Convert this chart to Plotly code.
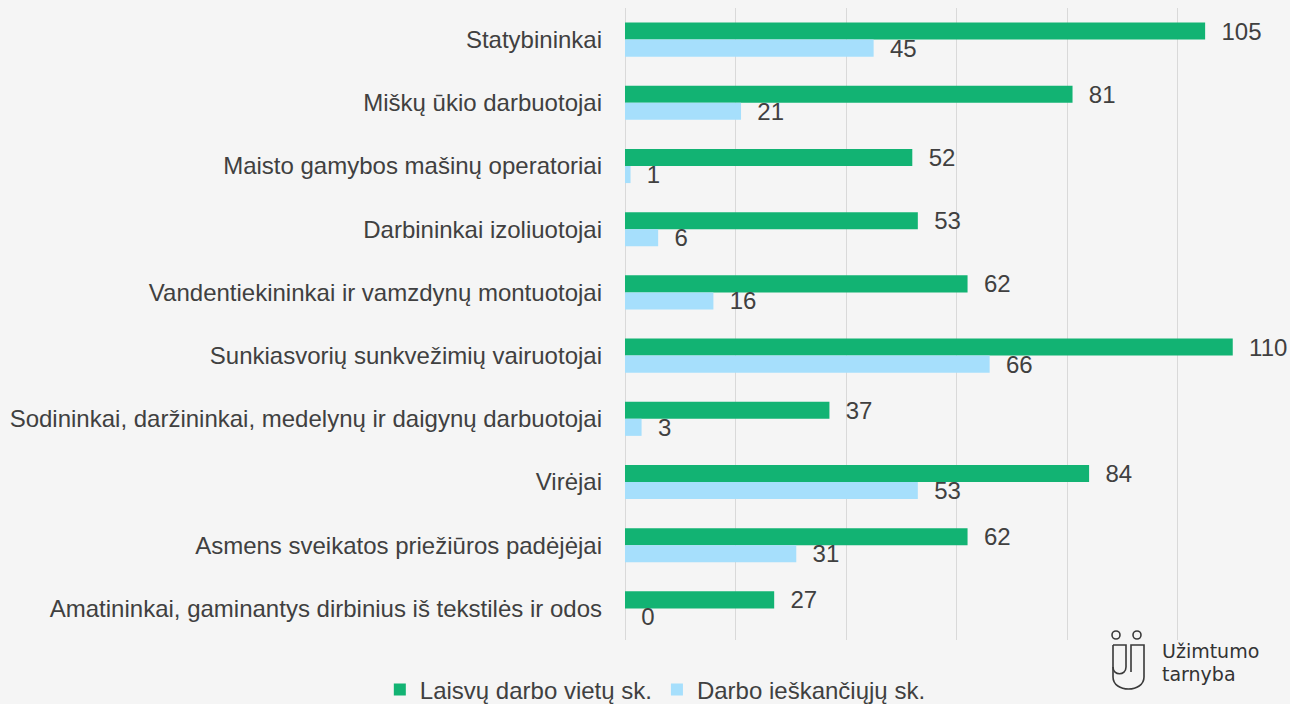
import plotly.graph_objects as go

categories = [
    "Statybininkai",
    "Miškų ūkio darbuotojai",
    "Maisto gamybos mašinų operatoriai",
    "Darbininkai izoliuotojai",
    "Vandentiekininkai ir vamzdynų montuotojai",
    "Sunkiasvorių sunkvežimių vairuotojai",
    "Sodininkai, daržininkai, medelynų ir daigynų darbuotojai",
    "Virėjai",
    "Asmens sveikatos priežiūros padėjėjai",
    "Amatininkai, gaminantys dirbinius iš tekstilės ir odos",
]
laisvos_vietos = [105, 81, 52, 53, 62, 110, 37, 84, 62, 27]
ieskantys = [45, 21, 1, 6, 16, 66, 3, 53, 31, 0]
series_names = ["Laisvų darbo vietų sk.", "Darbo ieškančiųjų sk."]

W, H = 1290, 704
L, R, T, B = 625, 2, 8, 64
pw, ph = W - L - R, H - T - B

TXT = "#404040"
FONT = "Liberation Sans, Arial, sans-serif"
FS = 24

fig = go.Figure()
fig.add_trace(go.Bar(
    y=categories, x=laisvos_vietos, orientation="h", name=series_names[0],
    marker=dict(color="#12b373", line=dict(width=0)),
    texttemplate="\u00a0\u00a0%{x}", textposition="outside", cliponaxis=False,
    textfont=dict(size=FS, color=TXT, family=FONT),
))
fig.add_trace(go.Bar(
    y=categories, x=ieskantys, orientation="h", name=series_names[1],
    marker=dict(color="#a6dffc", line=dict(width=0)),
    texttemplate="\u00a0\u00a0%{x}", textposition="outside", cliponaxis=False,
    textfont=dict(size=FS, color=TXT, family=FONT),
))


def px(x, y):
    return (x - L) / pw, (H - B - y) / ph


def path(cmds):
    out = []
    for c in cmds:
        if isinstance(c, str):
            out.append(c)
        else:
            xx, yy = px(*c)
            out.append(f"{xx:.5f},{yy:.5f}")
    return " ".join(out)


shapes = []
line_style = dict(color="#3a3a3a", width=1.6)
for cx in (1116, 1137):
    x0, y0 = px(cx - 4, 631)
    x1, y1 = px(cx + 4, 639)
    shapes.append(dict(type="circle", xref="paper", yref="paper",
                       x0=x0, y0=y1, x1=x1, y1=y0, line=line_style))
shapes.append(dict(type="path", xref="paper", yref="paper", line=line_style,
                   path=path(["M", (1113, 645), "L", (1113, 677), "C", (1113, 693), (1144, 693), (1144, 677),
                              "L", (1144, 645), "L", (1131, 645), "L", (1131, 672)])))
shapes.append(dict(type="path", xref="paper", yref="paper", line=line_style,
                   path=path(["M", (1113, 645), "L", (1126, 645), "L", (1126, 667), "C", (1126, 676), (1113, 676), (1113, 667)])))

ax, ay1 = px(1161, 651)
_, ay2 = px(1161, 674)
logo_font = dict(size=19, color="#333333", family="DejaVu Sans, sans-serif")
annotations = [
    dict(text="Užimtumo", x=ax, y=ay1, xref="paper", yref="paper", xanchor="left", yanchor="middle",
         showarrow=False, font=logo_font, borderpad=0),
    dict(text="tarnyba", x=ax, y=ay2, xref="paper", yref="paper", xanchor="left", yanchor="middle",
         showarrow=False, font=logo_font, borderpad=0),
]

fig.update_layout(
    width=W, height=H,
    margin=dict(l=L, r=R, t=T, b=B, pad=0),
    paper_bgcolor="#f5f5f5", plot_bgcolor="#f5f5f5",
    barmode="group", bargap=0.46, bargroupgap=0,
    uniformtext=dict(minsize=FS, mode="show"),
    font=dict(family=FONT, size=FS, color=TXT),
    showlegend=True,
    legend=dict(orientation="h", xref="container", yref="container", x=0.508, y=0.02,
                xanchor="center", yanchor="middle", font=dict(size=FS, color=TXT, family=FONT),
                bgcolor="rgba(0,0,0,0)", itemwidth=30, traceorder="normal"),
    xaxis=dict(range=[0, 120], dtick=20, showticklabels=False, showgrid=True,
               gridcolor="#d9d9d9", gridwidth=1, zeroline=True, zerolinecolor="#d9d9d9",
               zerolinewidth=1, showline=False, fixedrange=True),
    yaxis=dict(categoryorder="array", categoryarray=categories, autorange="reversed",
               showgrid=False, showline=False, ticks="", ticklabelstandoff=22,
               tickfont=dict(size=FS, color=TXT, family=FONT)),
    shapes=shapes, annotations=annotations,
)

fig.write_html("out.html", config={"displayModeBar": False},
               post_script="document.body.style.margin='0';document.body.style.background='#f5f5f5';")
